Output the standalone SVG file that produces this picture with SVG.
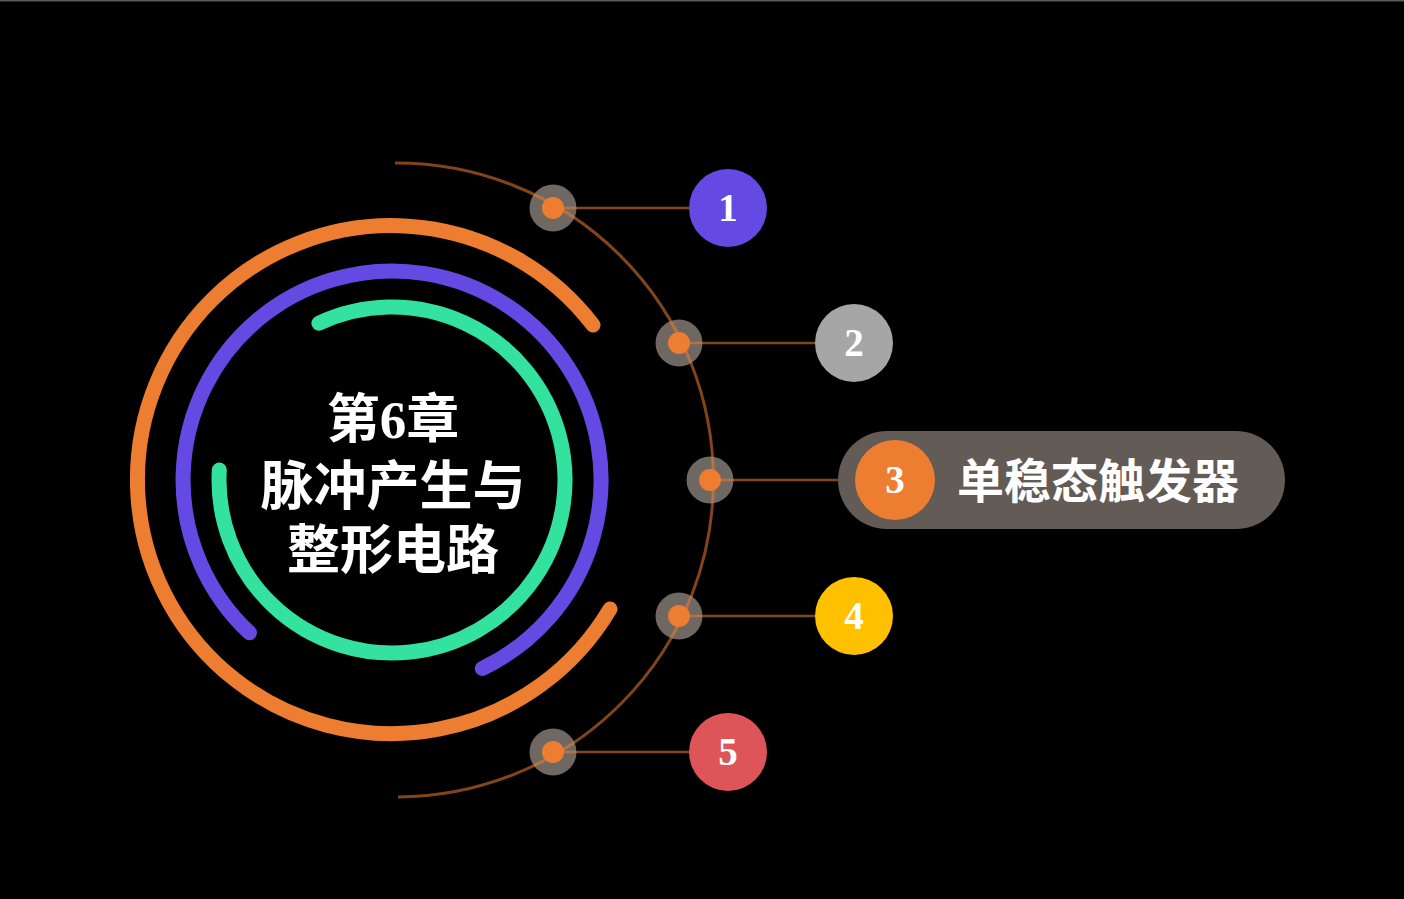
<svg xmlns="http://www.w3.org/2000/svg" width="1404" height="899" viewBox="0 0 1404 899">
<style>
.ring{fill:none;stroke-width:15;stroke-linecap:round}
.thin{fill:none;stroke:#ED7D31;stroke-opacity:0.55;stroke-width:3}
.conn{stroke:#ED7D31;stroke-opacity:0.55;stroke-width:2.5}
.halo{fill:#6f6862}
.dot{fill:#ED7D31}
.num{font-family:"Liberation Serif","Times New Roman",serif;font-weight:bold;font-size:39px;fill:#ffffff;text-anchor:middle}
.title{font-family:"Liberation Serif","Noto Sans CJK SC",sans-serif;font-weight:bold;font-size:53px;fill:#ffffff;text-anchor:middle}
.label{font-family:"Noto Sans CJK SC",sans-serif;font-weight:bold;font-size:47px;fill:#ffffff}
</style>
<rect x="0" y="0" width="1404" height="899" fill="#000000"/>
<rect x="0" y="0" width="1404" height="1.5" fill="#5a5a5a"/>
<g id="center">
<path class="ring" stroke="#ED7D31" d="M 593 325 A 254 254 0 1 0 610 609"/>
<path class="ring" stroke="#6449E2" d="M 249.5 632.8 A 209 209 0 1 1 482.3 668.5"/>
<path class="ring" stroke="#33E29E" d="M 219.3 470 A 173 173 0 1 0 318.9 323.2"/>
<text class="title" x="393" y="438">第6章</text>
<text class="title" x="393" y="505">脉冲产生与</text>
<text class="title" x="393" y="569">整形电路</text>
</g>
<g id="halos">
<circle class="halo" cx="553" cy="208" r="23.5"/>
<circle class="halo" cx="679" cy="343" r="23.5"/>
<circle class="halo" cx="710" cy="480" r="23.5"/>
<circle class="halo" cx="679" cy="616" r="23.5"/>
<circle class="halo" cx="553" cy="752" r="23.5"/>
</g>
<g id="connectors">
<path class="thin" d="M 395 163 A 317 317 0 0 1 398 797"/>
<line class="conn" x1="553" y1="208" x2="690" y2="208"/>
<line class="conn" x1="679" y1="343" x2="815" y2="343"/>
<line class="conn" x1="710" y1="480" x2="856" y2="480"/>
<line class="conn" x1="679" y1="616" x2="815" y2="616"/>
<line class="conn" x1="553" y1="752" x2="690" y2="752"/>
</g>
<g id="dots">
<circle class="dot" cx="553" cy="208" r="11"/>
<circle class="dot" cx="679" cy="343" r="11"/>
<circle class="dot" cx="710" cy="480" r="11"/>
<circle class="dot" cx="679" cy="616" r="11"/>
<circle class="dot" cx="553" cy="752" r="11"/>
</g>
<g id="node1">
<circle cx="728" cy="208" r="39" fill="#6449E2"/>
<text class="num" x="728" y="221">1</text>
</g>
<g id="node2">
<circle cx="854" cy="343" r="39" fill="#A6A6A6"/>
<text class="num" x="854" y="356">2</text>
</g>
<g id="node3">
<rect x="838" y="431" width="447" height="98" rx="49" fill="#635B55"/>
<circle cx="895" cy="480" r="40" fill="#ED7D31"/>
<text class="num" x="895" y="493">3</text>
<text class="label" x="957" y="498">单稳态触发器</text>
</g>
<g id="node4">
<circle cx="854" cy="616" r="39" fill="#FFC000"/>
<text class="num" x="854" y="629">4</text>
</g>
<g id="node5">
<circle cx="728" cy="752" r="39" fill="#DE5559"/>
<text class="num" x="728" y="765">5</text>
</g>
</svg>
